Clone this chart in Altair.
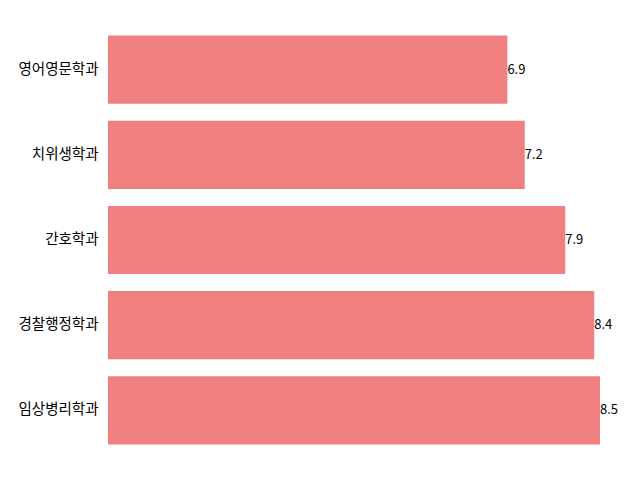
import altair as alt
import pandas as pd

majors = ["영어영문학과", "치위생학과", "간호학과", "경찰행정학과", "임상병리학과"]
values = [6.9, 7.2, 7.9, 8.4, 8.5]

df = pd.DataFrame({"major": majors, "value": values})

x = alt.X("value:Q", axis=None, scale=alt.Scale(domain=[0, 8.5], nice=False, zero=True))
y = alt.Y("major:N", sort=majors, title=None,
          scale=alt.Scale(paddingInner=0.2, paddingOuter=0.1),
          axis=alt.Axis(domain=False, ticks=False, labelPadding=10, labelFontSize=14.5,
                        labelFont="Noto Sans CJK KR", labelColor="#000000", labelFontWeight="normal"))

bars = alt.Chart(df).mark_bar(color="#F08080").encode(x=x, y=y)
text = alt.Chart(df).mark_text(align="left", baseline="middle", dx=0, fontSize=13,
                               font="Noto Sans CJK KR", color="#000000").encode(
    x=x, y=alt.Y("major:N", sort=majors), text=alt.Text("value:Q", format=".1f"))

chart = (bars + text).properties(
    width=492, height=426,
    autosize=alt.AutoSizeParams(type="none"),
    padding={"left": 100, "top": 19, "right": 32, "bottom": 19},
).configure_view(stroke=None)

chart.save("out.html", embed_options={"renderer": "svg", "actions": False})
